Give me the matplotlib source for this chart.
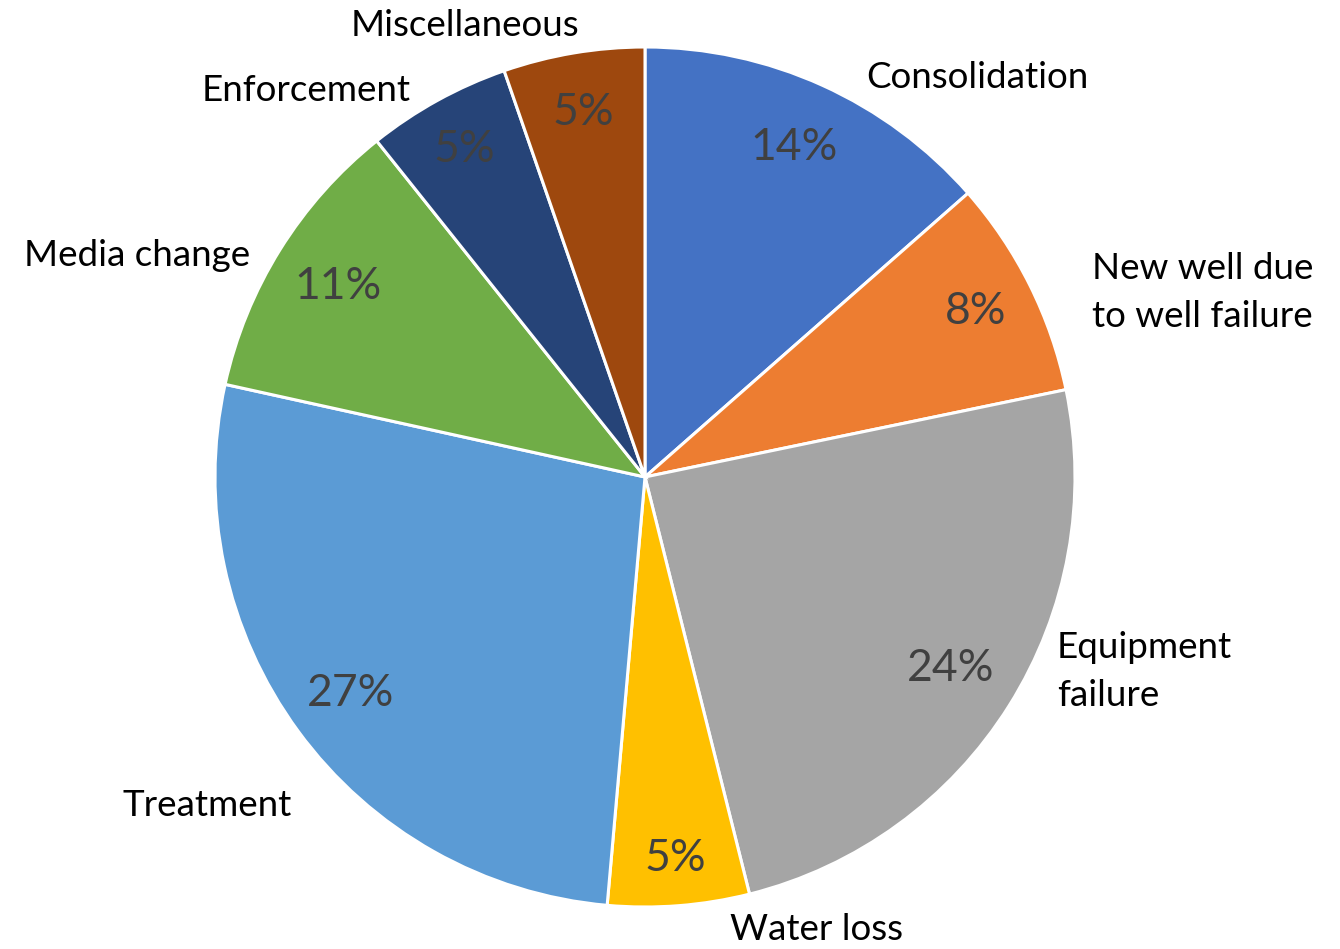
import matplotlib
matplotlib.use("Agg")
import matplotlib.pyplot as plt
import numpy as np

categories = ["Consolidation", "New well due\nto well failure", "Equipment\nfailure", "Water loss",
              "Treatment", "Media change", "Enforcement", "Miscellaneous"]
values = [13.5, 8.2, 24.3, 5.3, 27.0, 10.8, 5.4, 5.3]
colors = ["#4472C4", "#ED7D31", "#A5A5A5", "#FFC000", "#5B9BD5", "#70AD47", "#264478", "#9E480E"]

# label anchor positions (in pie-radius units) and alignment
label_pos = [(0.772, 0.930, "center"), (1.040, 0.430, "left"), (0.958, -0.453, "left"),
             (0.400, -1.053, "center"), (-1.019, -0.763, "center"), (-1.181, 0.516, "center"),
             (-0.788, 0.900, "center"), (-0.419, 1.051, "center")]
pct_dist = [0.84, 0.86, 0.84, 0.89, 0.85, 0.84, 0.87, 0.86]

plt.rcParams['font.family'] = ['Lato', 'DejaVu Sans']

fig = plt.figure(figsize=(13.4, 9.49), dpi=100)
ax = fig.add_axes([215/1340, 42/949, 860/1340, 860/949])

wedges, texts, autotexts = ax.pie(values, colors=colors, startangle=90, counterclock=False,
                                  autopct='%.0f%%', pctdistance=0.86, radius=1,
                                  wedgeprops=dict(edgecolor='white', linewidth=2.2),
                                  textprops=dict(color='#404040', fontsize=32))
for w, t, d in zip(wedges, autotexts, pct_dist):
    ang = np.deg2rad((w.theta1 + w.theta2) / 2)
    t.set_position((d * np.cos(ang), d * np.sin(ang)))

ax.set_xlim(-1, 1)
ax.set_ylim(-1, 1)
ax.set_aspect('equal')
ax.axis('off')

for cat, (x, y, ha) in zip(categories, label_pos):
    ax.text(x, y, cat, ha=ha, va='center', fontsize=26.5, color='#000000',
            multialignment='left', linespacing=1.55, clip_on=False)

fig.savefig("out.png", dpi=100)
